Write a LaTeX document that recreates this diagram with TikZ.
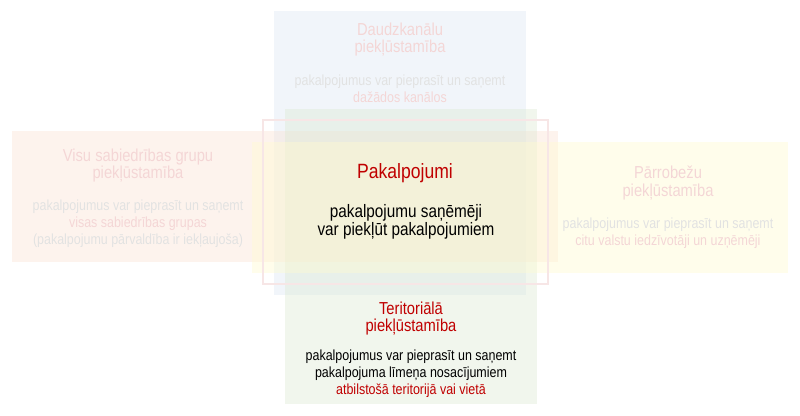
\documentclass[tikz,border=0pt]{standalone}
\usepackage{fontspec}
\setmainfont{Liberation Sans}[FakeStretch=0.85]
\definecolor{bluebg}{RGB}{221,232,243}
\definecolor{orangebg}{RGB}{251,226,212}
\definecolor{yellowbg}{RGB}{255,251,208}
\definecolor{greenbg}{RGB}{221,233,213}
\definecolor{darkred}{RGB}{192,0,0}
\definecolor{fadered}{RGB}{244,214,214}
\definecolor{fadegray}{RGB}{226,226,226}
\definecolor{outlinered}{RGB}{225,168,168}
\definecolor{outlinein}{RGB}{247,230,230}
\tikzset{
  panel/.style={fill opacity=0.42, draw=none},
  titletext/.style={inner sep=0pt, align=center, font=\fontsize{13}{12.8}\selectfont},
  bodytext/.style={inner sep=0pt, align=center, font=\fontsize{11}{12.75}\selectfont},
}
\begin{document}
\begin{tikzpicture}[x=0.75pt,y=-0.75pt]
\useasboundingbox (0,0) rectangle (800,416);
% panels
\fill[panel, bluebg] (274,11) rectangle (526,295);
\fill[panel, orangebg] (12,131) rectangle (558,262);
\fill[panel, greenbg] (285,109) rectangle (537,404);
\fill[panel, yellowbg] (252,142) rectangle (788,273);
% outline
\draw[draw=outlinered, double=outlinein, line width=0.5pt, double distance=0.8pt] (263,120) rectangle (548,284);
% top
\node[titletext, text=fadered] (toptitle) at (400,40) {Daudzkanālu\\piekļūstamība};
\node[bodytext, text=fadegray] (topbody) at (400,89) {pakalpojumus var pieprasīt un saņemt\\\textcolor{fadered}{dažādos kanālos}};
% left
\node[titletext, text=fadered] (lefttitle) at (138,166) {Visu sabiedrības grupu\\piekļūstamība};
\node[bodytext, text=fadegray] (leftbody) at (138,224) {pakalpojumus var pieprasīt un saņemt\\\textcolor{fadered}{visas sabiedrības grupas}\\(pakalpojumu pārvaldība ir iekļaujoša)};
% right
\node[titletext, text=fadered] (righttitle) at (668,183) {Pārrobežu\\piekļūstamība};
\node[bodytext, text=fadegray] (rightbody) at (668,233) {pakalpojumus var pieprasīt un saņemt\\\textcolor{fadered}{citu valstu iedzīvotāji un uzņēmēji}};
% center
\node[inner sep=0pt, font=\fontsize{15.5}{14}\selectfont, text=darkred] (centertitle) at (405,173) {Pakalpojumi};
\node[inner sep=0pt, align=center, font=\fontsize{13.5}{14}\selectfont, text=black] (centerbody) at (406,222) {pakalpojumu saņēmēji\\var piekļūt pakalpojumiem};
% bottom
\node[titletext, text=darkred] (bottomtitle) at (411,319) {Teritoriālā\\piekļūstamība};
\node[bodytext, text=black] (bottombody) at (411,374) {pakalpojumus var pieprasīt un saņemt\\pakalpojuma līmeņa nosacījumiem\\\textcolor{darkred}{atbilstošā teritorijā vai vietā}};
\end{tikzpicture}
\end{document}
